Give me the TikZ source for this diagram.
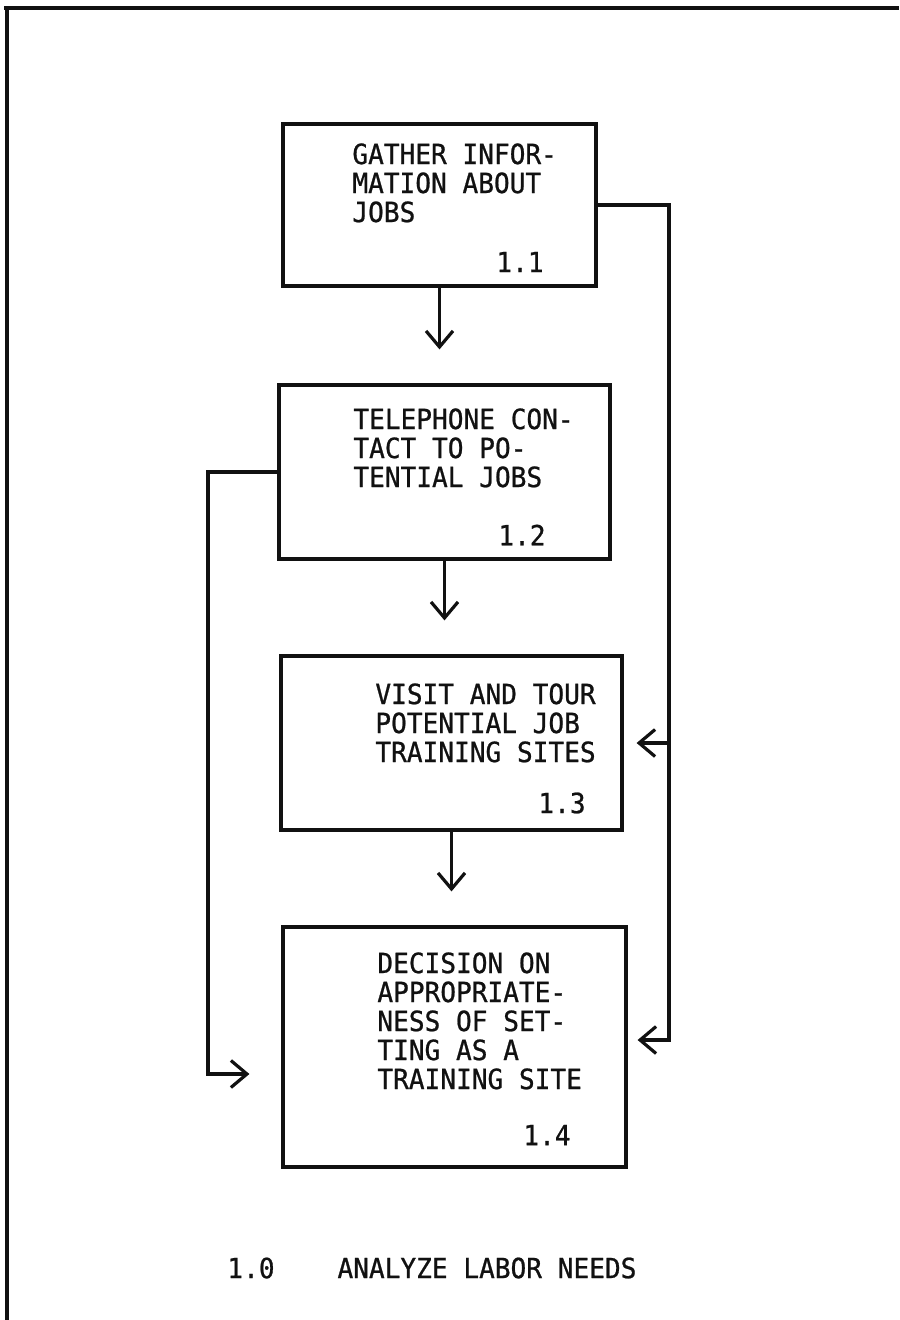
\documentclass[tikz,border=0pt]{standalone}
\usepackage{fontspec}
\usepackage{tikz}
\usetikzlibrary{arrows.meta,positioning}
\usepackage{xcolor}
\newfontfamily\typewriter[FakeStretch=0.94,FakeBold=0.8]{DejaVu Sans Mono}
\definecolor{ink}{HTML}{111111}

\begin{document}
\begin{tikzpicture}[x=0.5pt,y=-0.5pt,
  stepbox/.style={draw=ink, line width=1.6pt, inner sep=0pt},
  words/.style={anchor=north west, inner sep=0pt, align=left, text=ink,
    font=\typewriter\fontsize{13.9}{14.5}\selectfont},
  flow/.style={draw=ink, line width=1.6pt, -{Straight Barb[length=8pt,width=13.5pt]}}]
\useasboundingbox (0,0) rectangle (899,1320);

% page frame
\draw[ink, line width=2pt] (4,8.5) -- (899,8.5);
\draw[ink, line width=1.6pt] (7,7.5) -- (7,1320);

% boxes
\node[stepbox, minimum width=156.5pt, minimum height=81pt] (b1) at (439.5,205) {};
\node[stepbox, minimum width=165.5pt, minimum height=87pt] (b2) at (444.5,472) {};
\node[stepbox, minimum width=170.5pt, minimum height=87pt] (b3) at (451.5,743) {};
\node[stepbox, minimum width=171.5pt, minimum height=120pt] (b4) at (454.5,1047) {};

% texts
\node[words] (t1) at (352,143) {GATHER INFOR-\\MATION ABOUT\\JOBS};
\node[words] (t2) at (353,408) {TELEPHONE CON-\\TACT TO PO-\\TENTIAL JOBS};
\node[words] (t3) at (375,683) {VISIT AND TOUR\\POTENTIAL JOB\\TRAINING SITES};
\node[words] (t4) at (377,952) {DECISION ON\\APPROPRIATE-\\NESS OF SET-\\TING AS A\\TRAINING SITE};
\node[words, anchor=west] (n1) at (496,262) {1.1};
\node[words, anchor=west] (n2) at (498,535) {1.2};
\node[words, anchor=west] (n3) at (538,803) {1.3};
\node[words, anchor=west] (n4) at (523,1135) {1.4};
\node[words, anchor=west] (title) at (227,1268) {1.0~~~~ANALYZE LABOR NEEDS};

% main chain
\draw[flow, shorten >=17pt] (b1.south) -- (b1.south |- b2.north);
\draw[flow, shorten >=17pt] (b2.south) -- (b2.south |- b3.north);
\draw[flow, shorten >=17pt] (b3.south) -- (b3.south |- b4.north);

% side loops
\coordinate (rr) at (669,1040);
\coordinate (ll) at (208,1074);
\draw[flow, shorten >=5pt] (b1.east) -| (rr) -- (rr -| b4.east);
\draw[flow, shorten >=6.5pt] (b3.east -| rr) -- (b3.east);
\draw[flow, shorten >=16pt] (b2.west) -| (ll) -- (ll -| b4.west);
\end{tikzpicture}
\end{document}
